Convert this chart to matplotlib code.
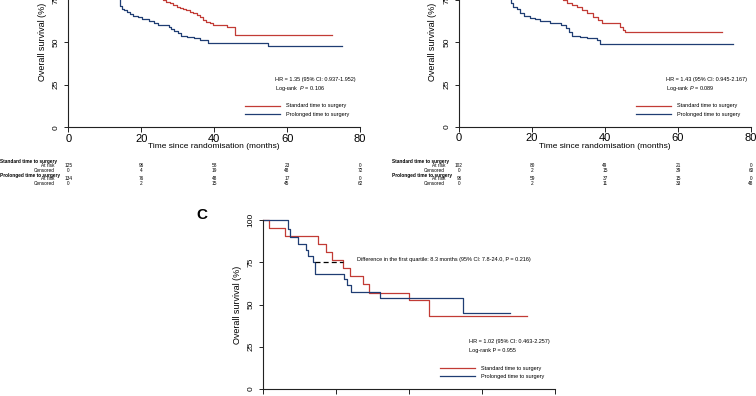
import matplotlib
matplotlib.use('Agg')
import matplotlib.pyplot as plt
from matplotlib.transforms import blended_transform_factory

plt.rcParams['font.family'] = ['Liberation Sans', 'DejaVu Sans']
plt.rcParams['mathtext.fontset'] = 'custom'
plt.rcParams['mathtext.it'] = 'Liberation Sans:italic'
plt.rcParams['mathtext.rm'] = 'Liberation Sans'

RED = '#c23b35'
BLUE = '#1f3d73'

# panel A: all patients
a_std_t = [0, 4, 6, 8, 10, 12, 14, 16, 18, 20, 22, 24, 25.3, 26.1, 26.8, 27.9, 28.6, 29.7,
           30.6, 31.5, 32.4, 33.4, 34.3, 35.2, 36.0, 37.0, 37.9, 38.9, 39.8, 43.6, 45.6, 72.2]
a_std_s = [100, 99.2, 98.4, 96.8, 95.2, 93.6, 91.2, 88.8, 86.4, 84.0, 80.8, 77.6, 75.6, 74.6, 73.6,
           72.7, 71.7, 70.7, 70.0, 69.3, 68.5, 67.8, 66.8, 65.8, 64.4, 62.9, 61.9, 60.9, 60.0, 58.8,
           54.1, 54.1]
a_pro_t = [0, 3, 5, 7, 9, 11, 12.5, 13.5, 14.0, 14.2, 14.6, 15.3, 16.0, 16.8, 17.8, 19.0, 20.3,
           22.0, 23.5, 24.5, 27.5, 28.3, 29.0, 30.0, 30.8, 32.5, 34.5, 36.0, 38.3, 54.8, 75.2]
a_pro_s = [100, 99.3, 98.5, 97.0, 94.0, 90.0, 85.0, 80.0, 76.1, 71.0, 69.5, 68.5, 67.5, 66.5, 65.5,
           64.5, 63.5, 62.5, 61.3, 60.0, 59.0, 57.8, 56.5, 55.0, 53.8, 53.0, 52.2, 51.2, 49.5, 47.6,
           47.6]

# panel B
b_std_t = [0, 4, 6, 8, 10, 12, 14, 16, 18, 20, 22, 24, 26, 27.5, 28.4, 29.5, 30.9, 32.2, 33.6,
           35.0, 36.8, 38.2, 39.1, 44.1, 45.0, 45.5, 72.1]
b_std_s = [100, 99.0, 98.0, 97.0, 95.0, 93.0, 91.0, 89.0, 86.5, 84.0, 82.0, 80.0, 77.5, 75.8, 74.7,
           73.1, 71.8, 70.4, 68.8, 66.9, 64.9, 62.9, 61.3, 59.0, 57.1, 55.9, 55.9]
b_pro_t = [0, 3, 5, 7, 9, 11, 12.5, 13.5, 14.0, 14.2, 14.9, 15.8, 16.7, 17.8, 19.4, 20.8, 22.2,
           24.9, 28.0, 29.2, 30.1, 31.0, 33.2, 35.0, 37.7, 38.6, 75.2]
b_pro_s = [100, 99.3, 98.5, 97.0, 94.0, 90.0, 85.0, 80.0, 76.5, 72.8, 70.8, 69.2, 67.2, 65.3, 64.4,
           63.5, 62.5, 61.0, 60.0, 58.0, 56.1, 53.5, 53.1, 52.2, 51.2, 48.8, 48.8]

# panel C
c_std_t = [0, 1.7, 6.0, 15.2, 17.2, 18.8, 22.0, 23.8, 27.5, 29.1, 39.9, 45.6, 72.3]
c_std_s = [100, 95.2, 90.5, 85.7, 81.0, 76.2, 71.4, 66.7, 61.9, 57.1, 52.4, 42.9, 42.9]
c_pro_t = [0, 6.9, 7.5, 9.7, 11.8, 12.4, 13.8, 14.3, 22.2, 22.9, 24.0, 32.0, 54.7, 67.7]
c_pro_s = [100, 94.7, 89.7, 86.0, 82.5, 78.9, 75.4, 68.3, 64.8, 61.3, 57.4, 53.7, 44.8, 44.8]
c_quart_t = [14.3, 22.0]
c_quart_s = [75, 75]

time_ticks = [0, 20, 40, 60, 80]
surv_ticks = [0, 25, 50, 75, 100]

a_risk_std = [125, 96, 58, 23, 0]
a_cens_std = [0, 4, 19, 48, 72]
a_risk_pro = [134, 76, 48, 17, 0]
a_cens_pro = [0, 2, 15, 45, 62]
b_risk_std = [102, 80, 49, 21, 0]
b_cens_std = [0, 2, 15, 39, 60]
b_risk_pro = [96, 59, 37, 15, 0]
b_cens_pro = [0, 2, 11, 33, 48]

labels = ['Standard time to surgery', 'Prolonged time to surgery']

W, H = 756, 396
fig = plt.figure(figsize=(W / 100, H / 100), dpi=100)


def fx(x):
    return x / W


def fy(y):
    return 1 - y / H


def km_axes(left, right, y0, y100, xpad=1.0):
    ax = fig.add_axes([fx(left), fy(y0), (right - left) / W, (y0 - y100) / H])
    ax.set_xlim(0, 80)
    ax.set_ylim(0, 100)
    ax.spines['top'].set_visible(False)
    ax.spines['right'].set_visible(False)
    for s in ['left', 'bottom']:
        ax.spines[s].set_linewidth(0.8)
        ax.spines[s].set_color('#222222')
    ax.set_xticks(time_ticks)
    ax.set_yticks(surv_ticks)
    ax.tick_params(axis='x', length=3.5, width=0.7, labelsize=8, pad=xpad, color='#222222')
    ax.tick_params(axis='y', length=3, width=0.7, labelsize=6, pad=3, labelrotation=90,
                   color='#222222')
    for lab in ax.get_yticklabels():
        lab.set_va('center')
    ax.set_ylabel('Overall survival (%)', fontsize=6.5, va='center')
    ax.yaxis.set_label_coords(-26 / (right - left), 0.5)
    ax.set_xlabel('Time since randomisation (months)', fontsize=6, va='center')
    ax.xaxis.set_label_coords(0.5, -19.6 / (y0 - y100))
    return ax


def curves(ax, st, ss, pt, ps):
    l1, = ax.step(st, ss, where='post', color=RED, lw=0.9, clip_on=False)
    l2, = ax.step(pt, ps, where='post', color=BLUE, lw=0.9, clip_on=False)
    return l1, l2


def legend(ax, handles, x, y):
    ax.legend(handles, labels, loc='upper left', bbox_to_anchor=(fx(x), fy(y)),
              bbox_transform=fig.transFigure, frameon=False, fontsize=4,
              handlelength=6.3, handletextpad=1.1, labelspacing=0.6,
              borderpad=0, borderaxespad=0)


def risk_table(ax, left, right, rs, cs, rp, cp):
    tr = blended_transform_factory(ax.transData, fig.transFigure)
    rows = [(161.3, 165.3, 170.3, labels[0], rs, cs), (175.0, 179.0, 183.7, labels[1], rp, cp)]
    for yg, yr, yc, name, risk, cens in rows:
        fig.text(fx(left), fy(yg), name, fontsize=3.4, weight='bold', va='center', ha='left')
        fig.text(fx(right), fy(yr), 'At risk', fontsize=3.4, va='center', ha='right')
        fig.text(fx(right), fy(yc), 'Censored', fontsize=3.4, va='center', ha='right')
        for t, v in zip(time_ticks, risk):
            ax.text(t, fy(yr), str(v), transform=tr, fontsize=3.4, ha='center', va='center')
        for t, v in zip(time_ticks, cens):
            ax.text(t, fy(yc), str(v), transform=tr, fontsize=3.4, ha='center', va='center')


# A
ax = km_axes(68.3, 360, 127.3, -43.3)
h = curves(ax, a_std_t, a_std_s, a_pro_t, a_pro_s)
fig.text(fx(275), fy(79.3), 'HR = 1.35 (95% CI: 0.937-1.952)', fontsize=4, va='center')
fig.text(fx(275), fy(88.3), r'Log-rank  $\it{P}$ = 0.106', fontsize=4, va='center')
legend(ax, h, 245, 103.5)
risk_table(ax, 0.5, 54.3, a_risk_std, a_cens_std, a_risk_pro, a_cens_pro)

# B
ax = km_axes(459, 751, 127, -43)
h = curves(ax, b_std_t, b_std_s, b_pro_t, b_pro_s)
fig.text(fx(666), fy(80), 'HR = 1.43 (95% CI: 0.945-2.167)', fontsize=4, va='center')
fig.text(fx(666), fy(88.3), r'Log-rank $\it{P}$ = 0.089', fontsize=4, va='center')
legend(ax, h, 636, 103.5)
risk_table(ax, 391.7, 445, b_risk_std, b_cens_std, b_risk_pro, b_cens_pro)

# C (bottom of the panel is cropped in the figure)
ax = km_axes(263, 555, 389, 220, xpad=4)
h = curves(ax, c_std_t, c_std_s, c_pro_t, c_pro_s)
ax.plot(c_quart_t, c_quart_s, color='black', lw=0.9, ls=(0, (4, 2.5)))
fig.text(fx(356.7), fy(259.3),
         'Difference in the first quartile: 8.3 months (95% CI: 7.8-24.0, P = 0.216)',
         fontsize=4, va='center')
fig.text(fx(469.3), fy(341.7), 'HR = 1.02 (95% CI: 0.463-2.257)', fontsize=4, va='center')
fig.text(fx(469.3), fy(350.7), 'Log-rank P = 0.955', fontsize=4, va='center')
legend(ax, h, 440, 365.8)
fig.text(fx(202), fy(215), 'C', fontsize=11, weight='bold', ha='center', va='center')

fig.savefig('out.png', dpi=100)
